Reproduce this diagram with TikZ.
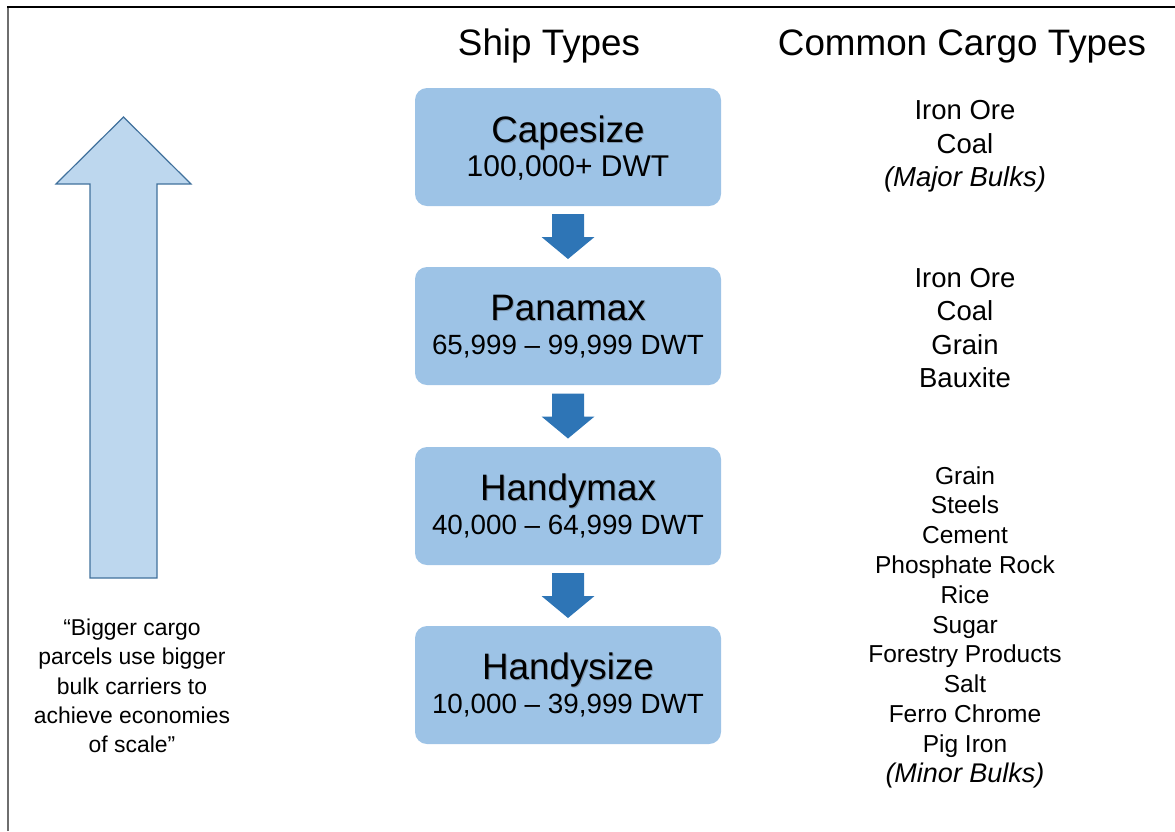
\documentclass[tikz,border=0pt]{standalone}
\usepackage{fontspec}
\setmainfont{Liberation Sans}
\usetikzlibrary{calc}
\definecolor{boxblue}{RGB}{157,195,230}
\definecolor{arrblue}{RGB}{46,117,182}
\definecolor{bigfill}{RGB}{189,215,238}
\definecolor{bigline}{RGB}{65,113,156}
\definecolor{framegray}{RGB}{110,110,110}
\definecolor{shadowgray}{RGB}{125,150,175}
\tikzset{
  shipbox/.style={fill=boxblue, rounded corners=12pt, minimum width=306pt, minimum height=118pt, inner sep=0pt},
  shiptext/.style={align=center, inner sep=0pt, font=\fontsize{30}{34}\selectfont},
  title/.style={font=\fontsize{36.8}{40}\selectfont, inner sep=0pt},
  cargo/.style={align=center, inner sep=0pt, font=\fontsize{27.5}{33.5}\selectfont},
  cargosmall/.style={align=center, inner sep=0pt, font=\fontsize{24.5}{29.8}\selectfont},
  quote/.style={align=center, inner sep=0pt, font=\fontsize{22.9}{29.3}\selectfont},
  downarrow/.pic={\fill[arrblue] (-16,-22.5) -- (16,-22.5) -- (16,0.5) -- (26.5,0.5) -- (0,22.5) -- (-26.5,0.5) -- (-16,0.5) -- cycle;}
}
\newcommand{\shipname}[1]{{\fontsize{36.8}{34}\selectfont\rlap{\raisebox{-1pt}{\hspace{1pt}\textcolor{shadowgray}{#1}}}#1}}
\newcommand{\dwtrange}[1]{{\fontsize{27.8}{34}\selectfont #1}}
\begin{document}
\begin{tikzpicture}[x=1pt,y=-1pt]
\useasboundingbox (0,0) rectangle (1175,831);
% frame
\draw[framegray, line width=1.5pt] (8,831) -- (8,7);
\draw[black, line width=1.5pt] (7.25,7) -- (1175,7);
% titles
\node[title] (t1) at (549,46) {Ship Types};
\node[title] (t2) at (962,46) {Common Cargo Types};
% ship boxes
\node[shipbox] (cape) at (568,147) {};
\node[shipbox] (pana) at (568,326) {};
\node[shipbox] (hmax) at (568,506) {};
\node[shipbox] (hsize) at (568,685) {};
\node[shiptext] (capet) at ($(cape.center)+(0,1.5)$) {\shipname{Capesize}\\100,000+ DWT};
\node[shiptext] (panat) at ($(pana.center)+(0,0.5)$) {\shipname{Panamax}\\\dwtrange{65,999 – 99,999 DWT}};
\node[shiptext] (hmaxt) at ($(hmax.center)+(0,0)$) {\shipname{Handymax}\\\dwtrange{40,000 – 64,999 DWT}};
\node[shiptext] (hsizet) at ($(hsize.center)+(0,0)$) {\shipname{Handysize}\\\dwtrange{10,000 – 39,999 DWT}};
% arrows between boxes
\coordinate (m1) at ($(cape.south)!0.5!(pana.north)$);
\coordinate (m2) at ($(pana.south)!0.5!(hmax.north)$);
\coordinate (m3) at ($(hmax.south)!0.5!(hsize.north)$);
\pic at (m1) {downarrow};
\pic at (m2) {downarrow};
\pic at (m3) {downarrow};
% cargo lists
\node[cargo] (c1) at (965,146.5) {Iron Ore\\Coal\\\textit{(Major Bulks)}};
\node[cargo] (c2) at (965,328) {Iron Ore\\Coal\\Grain\\Bauxite};
\node[cargosmall] (c3) at (965,627) {Grain\\Steels\\Cement\\Phosphate Rock\\Rice\\Sugar\\Forestry Products\\Salt\\Ferro Chrome\\Pig Iron\\\textit{\fontsize{27}{29.8}\selectfont(Minor Bulks)}};
% big arrow
\draw[fill=bigfill, draw=bigline, line width=1.2pt, line join=miter] (90,578) -- (90,184) -- (56,184) -- (123.5,117) -- (191,184) -- (157,184) -- (157,578) -- cycle;
\node[quote] (q) at (132,686) {“Bigger cargo\\parcels use bigger\\bulk carriers to\\achieve economies\\of scale”};
\end{tikzpicture}
\end{document}
